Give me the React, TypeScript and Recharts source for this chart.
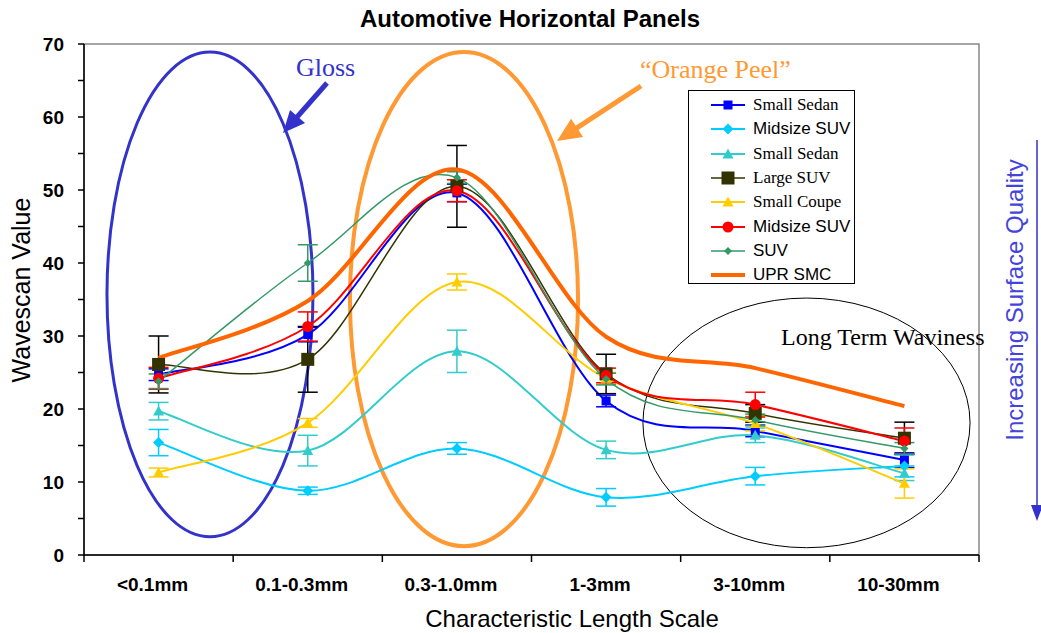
import React from 'react';
import { LineChart, Line, XAxis, YAxis, ErrorBar, ReferenceArea, Legend } from 'recharts';

const categories = ['<0.1mm', '0.1-0.3mm', '0.3-1.0mm', '1-3mm', '3-10mm', '10-30mm'];

const smallSedan = [24.7, 30.2, 49.6, 21.1, 17.0, 13.0];
const smallSedanErr = [0.8, 1.0, 1.2, 0.8, 0.8, 1.0];
const midsizeSuvA = [15.4, 8.8, 14.6, 7.9, 10.8, 12.2];
const midsizeSuvAErr = [1.8, 0.5, 0.8, 1.2, 1.2, 1.5];
const smallSedanB = [19.7, 14.3, 27.9, 14.4, 16.4, 11.2];
const smallSedanBErr = [1.2, 2.1, 2.9, 1.2, 1.0, 1.0];
const largeSuv = [26.1, 26.8, 50.5, 24.8, 19.4, 16.0];
const largeSuvErr = [3.9, 4.5, 5.6, 2.7, 1.2, 2.2];
const smallCoupe = [11.3, 18.1, 37.4, 24.2, 18.0, 9.8];
const smallCoupeErr = [0.6, 0.6, 1.1, 0.8, 1.0, 2.0];
const midsizeSuvB = [24.2, 31.3, 49.9, 24.6, 20.6, 15.6];
const midsizeSuvBErr = [1.5, 2.0, 1.5, 1.0, 1.7, 1.8];
const suv = [23.8, 40.0, 51.7, 24.1, 18.5, 14.6];
const suvErr = [1.0, 2.5, 0.8, 0.8, 0.8, 0.8];
const uprSmc = [27.0, 34.8, 52.8, 29.9, 25.6, 20.4];

const yTicks = [0, 5, 10, 15, 20, 25, 30, 35, 40, 45, 50, 55, 60, 65, 70];
const xBounds = [-0.5, 0.5, 1.5, 2.5, 3.5, 4.5, 5.5];

const SANS = 'Arial, "Liberation Sans", sans-serif';
const SERIF = '"Times New Roman", "Liberation Serif", serif';

const W = 1041;
const H = 633;
const plotLeft = 84;
const plotRight = 979;
const plotTop = 44;
const plotBottom = 555;
const band = (plotRight - plotLeft) / categories.length;

type Shape = 'square' | 'diamond' | 'triangle' | 'circle' | 'none';

const series = [
  { key: 'sedanA', name: 'Small Sedan', color: '#0000ff', values: smallSedan, err: smallSedanErr, shape: 'square' as Shape, size: 9, width: 2, serif: true },
  { key: 'midA', name: 'Midsize SUV', color: '#00ccff', values: midsizeSuvA, err: midsizeSuvAErr, shape: 'diamond' as Shape, size: 11, width: 2, serif: false },
  { key: 'sedanB', name: 'Small Sedan', color: '#33cccc', values: smallSedanB, err: smallSedanBErr, shape: 'triangle' as Shape, size: 11, width: 2, serif: true },
  { key: 'large', name: 'Large SUV', color: '#333300', values: largeSuv, err: largeSuvErr, shape: 'square' as Shape, size: 13, width: 1.5, serif: true },
  { key: 'coupe', name: 'Small Coupe', color: '#ffcc00', values: smallCoupe, err: smallCoupeErr, shape: 'triangle' as Shape, size: 11, width: 2, serif: true },
  { key: 'midB', name: 'Midsize SUV', color: '#ff0000', values: midsizeSuvB, err: midsizeSuvBErr, shape: 'circle' as Shape, size: 11, width: 2, serif: false },
  { key: 'suv', name: 'SUV', color: '#339966', values: suv, err: suvErr, shape: 'diamond' as Shape, size: 8, width: 1.5, serif: false },
  { key: 'upr', name: 'UPR SMC', color: '#ff6600', values: uprSmc, err: null as number[] | null, shape: 'none' as Shape, size: 0, width: 4, serif: false },
];

const data = categories.map((c, i) => {
  const row: Record<string, number | string> = { idx: i, cat: c };
  series.forEach((s) => {
    row[s.key] = s.values[i];
    if (s.err) row[s.key + 'Err'] = s.err[i];
  });
  return row;
});

// Excel style smoothed line (Catmull-Rom as bezier)
function smoothCurve(context: any) {
  let pts: number[][] = [];
  return {
    areaStart() {},
    areaEnd() {},
    lineStart() {
      pts = [];
    },
    point(x: number, y: number) {
      pts.push([+x, +y]);
    },
    lineEnd() {
      if (!pts.length) return;
      context.moveTo(pts[0][0], pts[0][1]);
      for (let i = 0; i < pts.length - 1; i++) {
        const p0 = pts[i - 1] || pts[i];
        const p1 = pts[i];
        const p2 = pts[i + 1];
        const p3 = pts[i + 2] || p2;
        context.bezierCurveTo(
          p1[0] + (p2[0] - p0[0]) / 6,
          p1[1] + (p2[1] - p0[1]) / 6,
          p2[0] - (p3[0] - p1[0]) / 6,
          p2[1] - (p3[1] - p1[1]) / 6,
          p2[0],
          p2[1]
        );
      }
    },
  };
}

function Marker({ shape, cx, cy, size, color }: { shape: Shape; cx: number; cy: number; size: number; color: string }) {
  const h = size / 2;
  if (shape === 'square') return <rect x={cx - h} y={cy - h} width={size} height={size} fill={color} />;
  if (shape === 'diamond')
    return <polygon points={`${cx},${cy - h} ${cx + h},${cy} ${cx},${cy + h} ${cx - h},${cy}`} fill={color} />;
  if (shape === 'triangle')
    return <polygon points={`${cx},${cy - h} ${cx + h},${cy + h * 0.8} ${cx - h},${cy + h * 0.8}`} fill={color} />;
  if (shape === 'circle') return <circle cx={cx} cy={cy} r={h} fill={color} />;
  return <g />;
}

function XTick(props: any) {
  const { x, y, payload } = props;
  const i = Math.round(payload.value + 0.5);
  if (i < 0 || i >= categories.length) return <g />;
  return (
    <text x={x + band / 2 - 6} y={y + 27} textAnchor="middle" fontFamily={SANS} fontWeight="bold" fontSize={19} fill="#000">
      {categories[i]}
    </text>
  );
}

function YTick(props: any) {
  const { x, y, payload } = props;
  if (payload.value % 10 !== 0) return <g />;
  return (
    <text x={x - 12} y={y + 7} textAnchor="end" fontFamily={SANS} fontWeight="bold" fontSize={19} fill="#000">
      {payload.value}
    </text>
  );
}

function ellipseShape(color: string, strokeWidth: number) {
  return (p: any) => (
    <ellipse
      cx={p.x + p.width / 2}
      cy={p.y + p.height / 2}
      rx={p.width / 2}
      ry={p.height / 2}
      fill="none"
      stroke={color}
      strokeWidth={strokeWidth}
    />
  );
}

function LegendBox() {
  return (
    <div
      style={{
        border: '1px solid #000',
        background: '#fff',
        width: 167,
        height: 194,
        boxSizing: 'border-box',
        paddingTop: 2,
      }}
    >
      {series.map((s) => (
        <div key={s.key} style={{ display: 'flex', alignItems: 'center', height: 24.3 }}>
          <svg width={64} height={20} style={{ flex: 'none' }}>
            <line x1={22} x2={56} y1={10} y2={10} stroke={s.color} strokeWidth={s.width} />
            <Marker shape={s.shape} cx={39} cy={10} size={s.size} color={s.color} />
          </svg>
          <span style={{ fontFamily: s.serif ? SERIF : SANS, fontSize: 17, whiteSpace: 'nowrap', color: '#000' }}>
            {s.name}
          </span>
        </div>
      ))}
    </div>
  );
}

function Arrow({ x1, y1, x2, y2, color, width, head, headW }: any) {
  const dx = x2 - x1;
  const dy = y2 - y1;
  const len = Math.sqrt(dx * dx + dy * dy);
  const ux = dx / len;
  const uy = dy / len;
  const bx = x2 - ux * head;
  const by = y2 - uy * head;
  const px = -uy * (headW / 2);
  const py = ux * (headW / 2);
  return (
    <g>
      <line x1={x1} y1={y1} x2={bx + ux * 2} y2={by + uy * 2} stroke={color} strokeWidth={width} />
      <polygon points={`${x2},${y2} ${bx + px},${by + py} ${bx - px},${by - py}`} fill={color} />
    </g>
  );
}

export default function App() {
  const yAxisWidth = 60;
  const xAxisHeight = 40;
  return (
    <div style={{ position: 'absolute', left: 0, top: 0, width: W, height: H, background: '#fff' }}>
      <LineChart
        width={W}
        height={H}
        data={data}
        margin={{ top: plotTop, right: W - plotRight, bottom: H - plotBottom - xAxisHeight, left: plotLeft - yAxisWidth }}
      >
        <ReferenceArea x1={-0.5} x2={5.5} y1={0} y2={70} fill="none" stroke="#888" strokeWidth={1.5} />
        <XAxis
          dataKey="idx"
          type="number"
          domain={[-0.5, 5.5]}
          ticks={xBounds}
          interval={0}
          height={xAxisHeight}
          tickSize={7}
          tick={<XTick />}
          axisLine={{ stroke: '#000', strokeWidth: 1.5 }}
          tickLine={{ stroke: '#000', strokeWidth: 1.5 }}
        />
        <YAxis
          type="number"
          domain={[0, 70]}
          ticks={yTicks}
          interval={0}
          width={yAxisWidth}
          tickSize={6}
          tick={<YTick />}
          axisLine={{ stroke: '#000', strokeWidth: 1.5 }}
          tickLine={{ stroke: '#000', strokeWidth: 1.5 }}
        />
        {series.map((s) => (
          <Line
            key={s.key}
            dataKey={s.key}
            name={s.name}
            type={smoothCurve as any}
            stroke={s.color}
            strokeWidth={s.width}
            isAnimationActive={false}
            dot={
              s.shape === 'none'
                ? false
                : (p: any) => <Marker key={`${s.key}-${p.index}`} shape={s.shape} cx={p.cx} cy={p.cy} size={s.size} color={s.color} />
            }
            activeDot={false}
          >
            {s.err && (
              <ErrorBar
                dataKey={s.key + 'Err'}
                direction="y"
                width={10}
                strokeWidth={1.5}
                stroke={s.key === 'large' ? '#000' : s.color}
                isAnimationActive={false}
              />
            )}
          </Line>
        ))}
        <ReferenceArea x1={-0.346} x2={1.035} y1={2.5} y2={68.9} shape={ellipseShape('#3333cc', 3)} />
        <ReferenceArea x1={1.283} x2={2.812} y1={1.2} y2={68.9} shape={ellipseShape('#ff9933', 4)} />
        <ReferenceArea x1={3.247} x2={5.44} y1={1.0} y2={35.2} shape={ellipseShape('#000', 1)} />
        <Legend
          layout="horizontal"
          verticalAlign="middle"
          align="center"
          width={167}
          height={194}
          wrapperStyle={{ left: 688, top: 90 }}
          content={<LegendBox />}
        />
      </LineChart>
      <svg width={W} height={H} style={{ position: 'absolute', left: 0, top: 0, pointerEvents: 'none' }}>
        <text x={530} y={27} textAnchor="middle" fontFamily={SANS} fontWeight="bold" fontSize={24}>
          Automotive Horizontal Panels
        </text>
        <text
          x={0}
          y={0}
          transform="translate(30, 290) rotate(-90)"
          textAnchor="middle"
          fontFamily={SANS}
          fontSize={25}
        >
          Wavescan Value
        </text>
        <text x={572} y={627} textAnchor="middle" fontFamily={SANS} fontSize={24}>
          Characteristic Length Scale
        </text>
        <text x={296} y={76} fontFamily={SERIF} fontSize={26} fill="#3333cc">
          Gloss
        </text>
        <text x={640} y={78} fontFamily={SERIF} fontSize={26} fill="#ff9933">
          “Orange Peel”
        </text>
        <text x={781} y={345} fontFamily={SERIF} fontSize={24} fill="#000">
          Long Term Waviness
        </text>
        <Arrow x1={327} y1={83} x2={283} y2={133} color="#3333cc" width={5} head={22} headW={20} />
        <Arrow x1={641} y1={86} x2={557} y2={141} color="#ff9933" width={5} head={24} headW={22} />
        <text
          x={0}
          y={0}
          transform="translate(1023, 300) rotate(-90)"
          textAnchor="middle"
          fontFamily={SANS}
          fontSize={24}
          fill="#4444dd"
        >
          Increasing Surface Quality
        </text>
        <Arrow x1={1037} y1={140} x2={1037} y2={521} color="#3333cc" width={1.5} head={16} headW={12} />
      </svg>
    </div>
  );
}
